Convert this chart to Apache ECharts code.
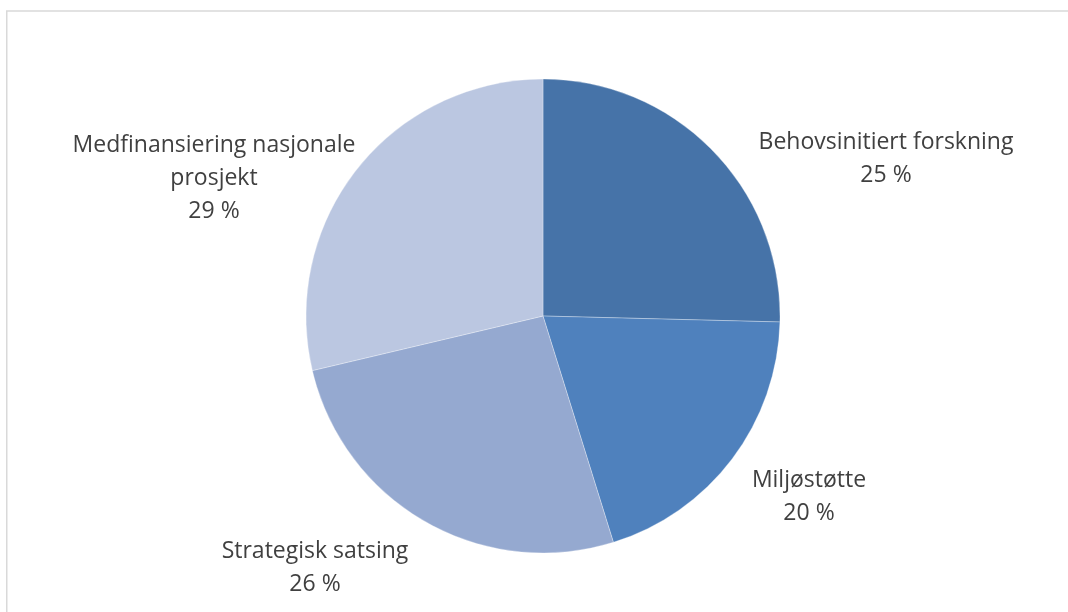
<!DOCTYPE html>
<html>
<head>
<meta charset="utf-8">
<script src="https://cdn.jsdelivr.net/npm/echarts@6/dist/echarts.min.js"></script>
<style>
  html, body { margin: 0; padding: 0; background: #ffffff; }
  #chart { width: 1068px; height: 612px; }
</style>
</head>
<body>
<div id="chart"></div>
<script>
// Shares of funding by programme area (percent)
const categories = [
  'Behovsinitiert forskning',
  'Miljøstøtte',
  'Strategisk satsing',
  'Medfinansiering nasjonale\nprosjekt'
];
const shares = [25.4, 19.8, 26.1, 28.7];
const sliceColors = ['#4673a8', '#4f81bd', '#95a9d0', '#bbc7e1'];

// Centre point of each slice's text block
const labelAnchors = [[886, 159], [809, 497], [315, 568], [214, 178]];

const chart = echarts.init(document.getElementById('chart'), null, { renderer: 'canvas' });

chart.setOption({
  animation: false,
  backgroundColor: '#ffffff',
  graphic: [{
    type: 'rect',
    shape: { x: 6.75, y: 11, width: 1200, height: 800 },
    style: { fill: 'none', stroke: '#d9d9d9', lineWidth: 1.5 },
    silent: true
  }],
  series: [{
    type: 'pie',
    center: [543, 316],
    radius: 237,
    startAngle: 90,
    clockwise: true,
    percentPrecision: 0,
    data: categories.map((name, i) => ({
      name: name,
      value: shares[i],
      itemStyle: { color: sliceColors[i] }
    })),
    itemStyle: { borderColor: 'rgba(255,255,255,0.6)', borderWidth: 0.5 },
    label: {
      show: true,
      position: 'outside',
      formatter: '{b}\n{d} %',
      color: '#404040',
      fontFamily: 'Open Sans',
      fontSize: 23,
      lineHeight: 33,
      align: 'center'
    },
    labelLine: { show: false },
    labelLayout: function (params) {
      const p = labelAnchors[params.dataIndex];
      return { x: p[0], y: p[1], align: 'center', verticalAlign: 'middle' };
    },
    emphasis: { disabled: true }
  }]
});
</script>
</body>
</html>
